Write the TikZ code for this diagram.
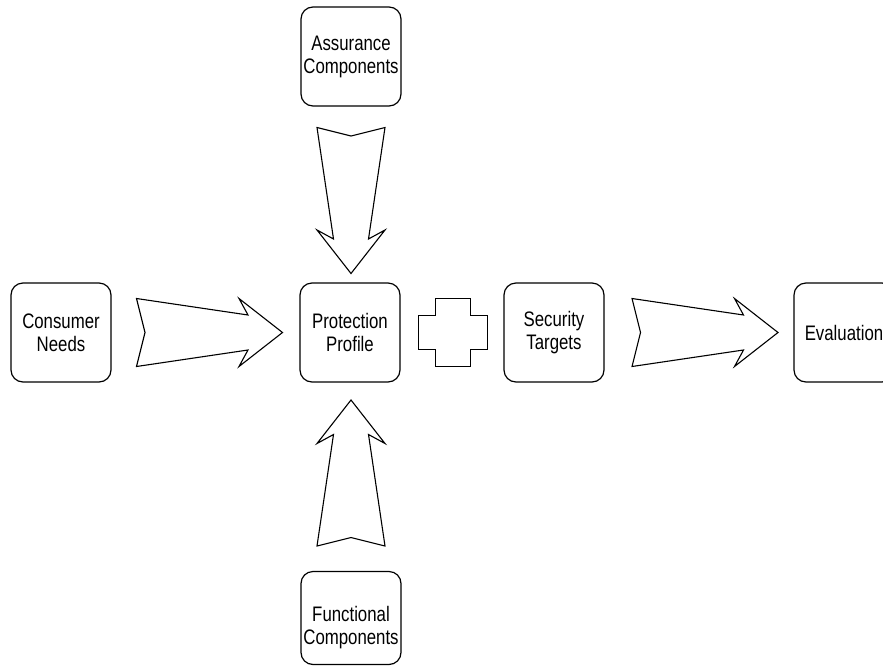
\documentclass[tikz,border=0pt]{standalone}
\usepackage{fontspec}
\setmainfont{Liberation Sans}[FakeStretch=0.8]
\usetikzlibrary{calc}
\begin{document}
\begin{tikzpicture}[x=1pt,y=-1pt,
  boxtext/.style={align=center,inner sep=0pt,font=\fontsize{21}{23}\selectfont},
  box/.style={draw=black,line width=1.2pt,rounded corners=12pt,
    minimum width=100pt,minimum height=99pt,boxtext},
  blockarrow/.pic={
    \draw[line width=1.1pt,line join=miter,fill=white]
      (-73,-34) -- (-64.5,0) -- (-73,34) -- (38.5,17.5) -- (29.5,34)
      -- (73,0) -- (29.5,-34) -- (38.5,-17.5) -- cycle;
  }]
\useasboundingbox (0,0) rectangle (883,667);

% boxes
\node[box] (assur) at (351,56.5)  {Assurance\\Components};
\node[box] (cons)  at (61,332.5)  {Consumer\\Needs};
\node[box] (prot)  at (350,332.5) {Protection\\Profile};
\node[box] (sec)   at (554,332.5) {Security\\Targets};
\node[box] (eval)  at (844,332.5) {Evaluation};
\node[box,minimum height=93pt] (func) at (351,618) {};
\node[boxtext] (functext) at ($(func.center)+(0,10)$) {Functional\\Components};

% block arrows between the boxes
\coordinate (a1) at (209.5,332.5);
\coordinate (a2) at (705,332.5);
\coordinate (a3) at (351,200.5);
\coordinate (a4) at (351,473);
\pic at (a1) {blockarrow};
\pic at (a2) {blockarrow};
\pic[rotate=-90] at (a3) {blockarrow};
\pic[rotate=90] at (a4) {blockarrow};

% plus sign between profile and targets
\coordinate (plus) at (453,332.5);
\draw[line width=1.1pt,line join=miter] (plus)
  ++(-17.5,-34) -- ++(35,0) -- ++(0,17) -- ++(17,0) -- ++(0,34)
  -- ++(-17,0) -- ++(0,17) -- ++(-35,0) -- ++(0,-17) -- ++(-17,0)
  -- ++(0,-34) -- ++(17,0) -- cycle;
\end{tikzpicture}
\end{document}
